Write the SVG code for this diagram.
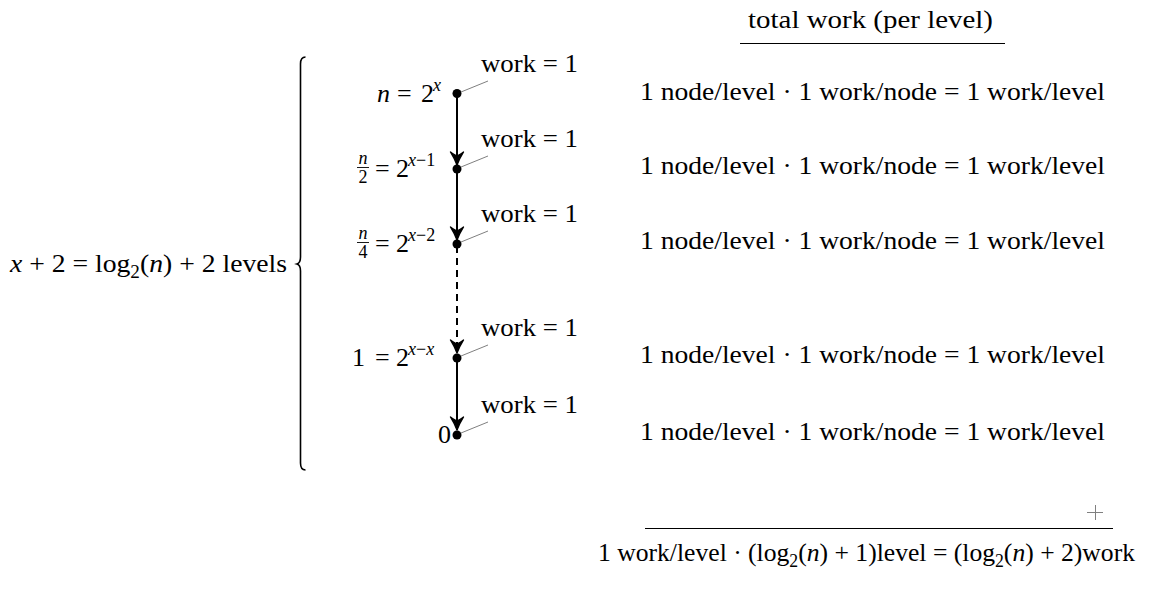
<svg xmlns="http://www.w3.org/2000/svg" width="1169" height="600" viewBox="0 0 1169 600">
<defs>
<style>
text{font-family:"Liberation Serif","DejaVu Serif",serif;fill:#000;font-size:26px}
.it{font-style:italic}
.sm{font-size:18px}
.sub{font-size:18px;baseline-shift:-6px}
.lead{stroke:#808080;stroke-width:1;fill:none}
.edge{stroke:#000;stroke-width:2;fill:none}
.rule{stroke:#000;stroke-width:1.2}
.fr{stroke:#000;stroke-width:0.9}
</style>
<marker id="ah" viewBox="0 0 16 16" refX="14.5" refY="8" markerWidth="16" markerHeight="16" markerUnits="userSpaceOnUse" orient="auto">
<path d="M14.5,8 Q8,5.5 1.5,1.5 Q5,6 5,8 Q5,10 1.5,14.5 Q8,10.5 14.5,8Z" fill="#000" stroke="#000" stroke-width="1.4" stroke-linejoin="round"/>
</marker>
</defs>
<rect width="1169" height="600" fill="#fff"/>

<g id="connectors">
<line class="edge" x1="457" y1="95" x2="457" y2="165" marker-end="url(#ah)"/>
<line class="edge" x1="457" y1="170" x2="457" y2="240" marker-end="url(#ah)"/>
<line class="edge" x1="457" y1="246" x2="457" y2="353" stroke-dasharray="7,5" marker-end="url(#ah)"/>
<line class="edge" x1="457" y1="359" x2="457" y2="430" marker-end="url(#ah)"/>
</g>

<g id="node1">
<circle cx="457" cy="93.5" r="4.5"/>
<text y="102"><tspan class="it" x="377">n</tspan><tspan x="397">=</tspan><tspan x="421">2</tspan><tspan class="it sm" x="433" y="91">x</tspan></text>
<line class="lead" x1="461" y1="92" x2="488" y2="81"/>
<text x="481" y="72" textLength="97" lengthAdjust="spacingAndGlyphs">work = 1</text>
</g>
<g id="node2">
<circle cx="457" cy="169" r="4.5"/>
<text x="363" y="163.5" class="it sm" text-anchor="middle">n</text>
<line class="fr" x1="357" y1="167.5" x2="369" y2="167.5"/>
<text x="363" y="183" class="sm" text-anchor="middle">2</text>
<text y="177"><tspan x="375">=</tspan><tspan x="396">2</tspan><tspan class="sm" x="408" y="166"><tspan class="it">x</tspan>−1</tspan></text>
<line class="lead" x1="461" y1="167" x2="488" y2="156"/>
<text x="481" y="147" textLength="97" lengthAdjust="spacingAndGlyphs">work = 1</text>
</g>
<g id="node3">
<circle cx="457" cy="244" r="4.5"/>
<text x="363" y="238.5" class="it sm" text-anchor="middle">n</text>
<line class="fr" x1="357" y1="242.5" x2="369" y2="242.5"/>
<text x="363" y="258" class="sm" text-anchor="middle">4</text>
<text y="252"><tspan x="375">=</tspan><tspan x="396">2</tspan><tspan class="sm" x="408" y="241"><tspan class="it">x</tspan>−2</tspan></text>
<line class="lead" x1="461" y1="242" x2="488" y2="231"/>
<text x="481" y="222" textLength="97" lengthAdjust="spacingAndGlyphs">work = 1</text>
</g>
<g id="node4">
<circle cx="457" cy="358" r="4.5"/>
<text y="366"><tspan x="352">1</tspan><tspan x="375">=</tspan><tspan x="396">2</tspan><tspan class="sm" x="408" y="355"><tspan class="it">x</tspan>−<tspan class="it">x</tspan></tspan></text>
<line class="lead" x1="461" y1="356" x2="488" y2="345"/>
<text x="481" y="336" textLength="97" lengthAdjust="spacingAndGlyphs">work = 1</text>
</g>
<g id="node5">
<circle cx="457" cy="435" r="4.5"/>
<text x="451" y="443" text-anchor="end">0</text>
<line class="lead" x1="461" y1="433" x2="488" y2="422"/>
<text x="481" y="413" textLength="97" lengthAdjust="spacingAndGlyphs">work = 1</text>
</g>

<g id="levels">
<text x="10" y="272" textLength="277" lengthAdjust="spacingAndGlyphs"><tspan class="it">x</tspan> + 2 = log<tspan class="sub">2</tspan>(<tspan class="it">n</tspan>) + 2  levels</text>
<path d="M305.5,57 Q300.5,57 300.5,64 L300.5,257 Q300.5,263 297,264 Q300.5,265 300.5,271 L300.5,463 Q300.5,470 305.5,470" fill="none" stroke="#000" stroke-width="1.6"/>
</g>

<g id="totals">
<text x="748" y="28" textLength="245" lengthAdjust="spacingAndGlyphs">total work (per level)</text>
<line class="rule" x1="740" y1="43.5" x2="1005" y2="43.5"/>
<text x="640" y="100" textLength="465" lengthAdjust="spacingAndGlyphs">1 node/level · 1 work/node = 1 work/level</text>
<text x="640" y="174" textLength="465" lengthAdjust="spacingAndGlyphs">1 node/level · 1 work/node = 1 work/level</text>
<text x="640" y="249" textLength="465" lengthAdjust="spacingAndGlyphs">1 node/level · 1 work/node = 1 work/level</text>
<text x="640" y="363" textLength="465" lengthAdjust="spacingAndGlyphs">1 node/level · 1 work/node = 1 work/level</text>
<text x="640" y="440" textLength="465" lengthAdjust="spacingAndGlyphs">1 node/level · 1 work/node = 1 work/level</text>
<g id="plus" stroke="#808080" stroke-width="1">
<line x1="1087" y1="512.5" x2="1103" y2="512.5"/>
<line x1="1095.5" y1="505" x2="1095.5" y2="520"/>
</g>
<line class="rule" x1="645" y1="528.5" x2="1113" y2="528.5"/>
<text x="598" y="561" textLength="537" lengthAdjust="spacingAndGlyphs">1 work/level · (log<tspan class="sub">2</tspan>(<tspan class="it">n</tspan>) + 1)level = (log<tspan class="sub">2</tspan>(<tspan class="it">n</tspan>) + 2)work</text>
</g>
</svg>
